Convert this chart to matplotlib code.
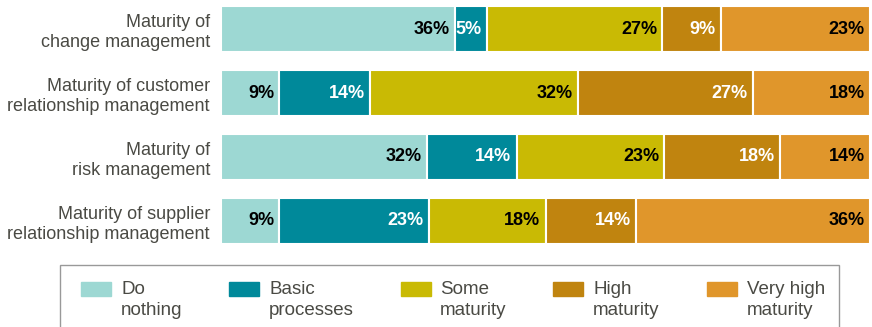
import matplotlib
matplotlib.use("Agg")
import matplotlib.pyplot as plt
from matplotlib.patches import Rectangle
import numpy as np

plt.rcParams['font.family'] = ['Liberation Sans', 'DejaVu Sans']

categories = [
    "Maturity of\nchange management",
    "Maturity of customer\nrelationship management",
    "Maturity of\nrisk management",
    "Maturity of supplier\nrelationship management",
]
series_names = ["Do\nnothing", "Basic\nprocesses", "Some\nmaturity", "High\nmaturity", "Very high\nmaturity"]
do_nothing = [36, 9, 32, 9]
basic = [5, 14, 14, 23]
some = [27, 32, 23, 18]
high = [9, 27, 18, 14]
very_high = [23, 18, 14, 36]

colors = ["#9dd8d3", "#00899a", "#c9ba04", "#c0840f", "#e0962b"]
text_colors = ["black", "white", "black", "white", "black"]

series = np.array([do_nothing, basic, some, high, very_high], dtype=float)
totals = series.sum(axis=0)
frac = series / totals * 100

W, H = 872, 327
fig = plt.figure(figsize=(W / 100, H / 100), dpi=100)
ax = fig.add_axes([221 / W, 1 - 244 / H, (870 - 221) / W, (244 - 6) / H])

y = np.arange(len(categories))
left = np.zeros(len(categories))
for i in range(len(series_names)):
    ax.barh(y, frac[i], left=left, height=0.72, color=colors[i],
            edgecolor="white", linewidth=1.5)
    for j in range(len(categories)):
        ax.text(left[j] + frac[i][j] - 0.8, y[j], f"{int(series[i][j])}%",
                ha="right", va="center", fontsize=13, fontweight="bold",
                color=text_colors[i])
    left += frac[i]

ax.set_xlim(0, 100)
ax.set_ylim(3.36, -0.36)
ax.set_yticks(y)
ax.set_yticklabels(categories, fontsize=13, color="#4a4a44", linespacing=1.25)
ax.tick_params(axis="y", length=0, pad=8)
ax.set_xticks([])
for s in ax.spines.values():
    s.set_visible(False)

# legend box
fig.patches.append(Rectangle((60 / W, -0.05), (839 - 60) / W, 1 - 265 / H + 0.05,
                             transform=fig.transFigure, fill=False,
                             edgecolor="#999999", linewidth=1.0))
patch_x = [81, 229, 401, 553, 707]
text_x = [121, 269, 440, 593, 747]
for i, name in enumerate(series_names):
    fig.patches.append(Rectangle((patch_x[i] / W, 1 - 296 / H), 30 / W, 14 / H,
                                 transform=fig.transFigure, color=colors[i]))
    fig.text(text_x[i] / W, 1 - 300 / H, name, ha="left", va="center",
             fontsize=13.5, color="#4a4a44", linespacing=1.25)

fig.savefig("out.png", dpi=100)
